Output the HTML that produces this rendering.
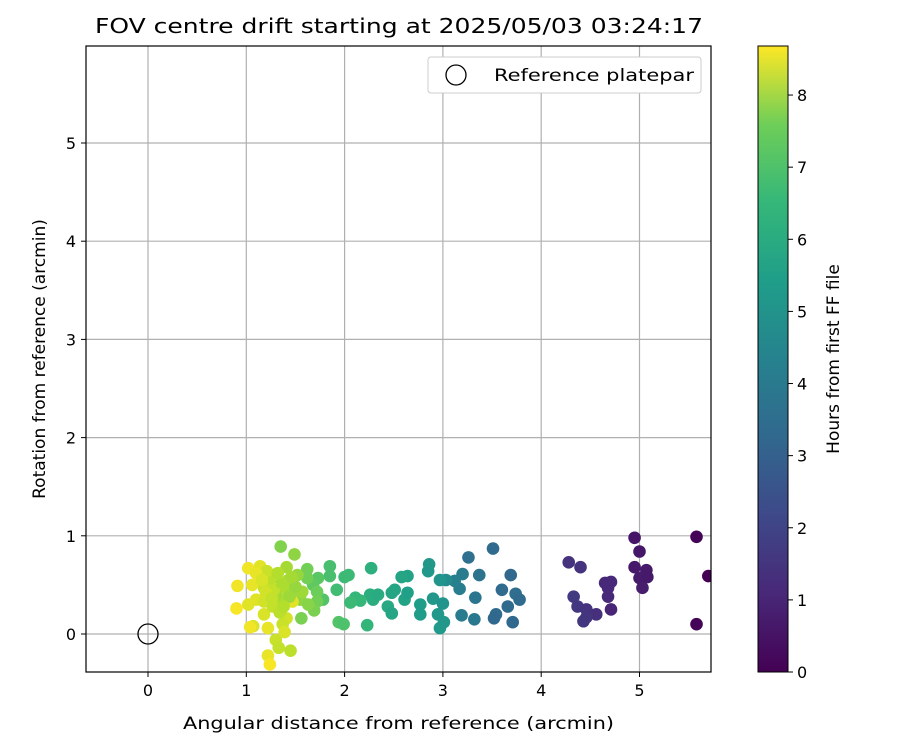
<!DOCTYPE html>
<html><head><meta charset="utf-8"><style>body{margin:0;background:#fff}svg{font-family:"DejaVu Sans","Liberation Sans",sans-serif}</style></head>
<body>
<svg id="c" width="900" height="750" xmlns="http://www.w3.org/2000/svg">
<defs><linearGradient id="vir" x1="0" y1="1" x2="0" y2="0">
<stop offset="0" stop-color="#440154"/><stop offset="0.125" stop-color="#482878"/><stop offset="0.25" stop-color="#3e4989"/><stop offset="0.375" stop-color="#31688e"/><stop offset="0.5" stop-color="#26828e"/><stop offset="0.625" stop-color="#1f9e89"/><stop offset="0.75" stop-color="#35b779"/><stop offset="0.875" stop-color="#6ece58"/><stop offset="1" stop-color="#fde725"/></linearGradient>
<clipPath id="pc"><rect x="86" y="46" width="625" height="626"/></clipPath></defs>
<text x="95" y="33" font-size="20" textLength="608" lengthAdjust="spacingAndGlyphs">FOV centre drift starting at 2025/05/03 03:24:17</text>
<g id="grid"></g><g id="pts" clip-path="url(#pc)"></g>
<rect x="86" y="46" width="625" height="626" fill="none" stroke="#000" stroke-width="1.2"/>
<g id="ticks"></g>
<text x="183" y="729" font-size="17" textLength="431" lengthAdjust="spacingAndGlyphs">Angular distance from reference (arcmin)</text>
<text transform="translate(45,359) rotate(-90)" font-size="17" text-anchor="middle">Rotation from reference (arcmin)</text>
<g>
<rect x="428" y="57" width="273" height="36" rx="3" fill="#fff" stroke="#ccc"/>
<circle cx="456" cy="75" r="10" fill="none" stroke="#000" stroke-width="1.3"/>
<text x="494" y="81" font-size="17" textLength="200" lengthAdjust="spacingAndGlyphs">Reference platepar</text></g>
<rect x="758" y="46" width="30" height="626" fill="url(#vir)" stroke="#000" stroke-width="1"/>
<g id="cb"></g>
<text transform="translate(839,359) rotate(-90)" font-size="17" text-anchor="middle">Hours from first FF file</text>
</svg>
<script>
const xTicks=[0,1,2,3,4,5];
const yTicks=[0,1,2,3,4,5];
const cbTicks=[0,1,2,3,4,5,6,7,8];
const xs=[5.58,5.58,5.70,4.95,5.0,4.95,5.07,5.0,5.08,5.03,4.28,4.40,4.71,4.68,4.65,4.68,4.71,4.33,4.37,4.46,4.56,4.43,4.46,3.51,3.26,3.37,3.69,3.60,3.74,3.78,3.66,3.54,3.71,3.52,3.33,3.2,3.17,3.32,3.19,3.12,3.03,2.85,2.86,2.64,2.58,2.97,2.90,3.0,2.95,2.97,3.01,2.77,2.77,2.48,2.61,2.64,2.44,2.48,2.26,2.29,2.27,2.23,2.34,2.51,1.85,1.85,2.0,2.04,1.92,2.11,2.16,2.06,1.94,1.99,1.78,1.73,1.68,1.35,1.49,1.62,1.62,1.72,1.72,1.69,1.56,1.55,1.41,1.43,1.47,1.37,1.24,1.14,1.21,1.18,1.06,1.10,1.18,1.07,1.04,1.22,1.02,0.91,0.90,1.02,1.1,1.18,1.47,1.41,1.37,1.30,1.33,1.45,1.22,1.24,1.39,1.3,1.40,1.52,1.27,1.34,1.57,1.63,1.28,1.36,1.44,1.50,1.20,1.32,1.16,1.38,1.26,1.46];
const ys=[0.99,0.10,0.59,0.98,0.84,0.68,0.65,0.57,0.58,0.47,0.73,0.68,0.53,0.47,0.52,0.38,0.25,0.38,0.28,0.25,0.20,0.13,0.17,0.87,0.78,0.60,0.60,0.45,0.41,0.35,0.28,0.20,0.12,0.16,0.37,0.61,0.46,0.15,0.19,0.54,0.55,0.64,0.71,0.59,0.58,0.55,0.36,0.31,0.20,0.06,0.12,0.30,0.20,0.42,0.35,0.42,0.28,0.21,0.40,0.35,0.67,0.09,0.40,0.45,0.59,0.69,0.58,0.60,0.45,0.37,0.34,0.32,0.12,0.10,0.35,0.57,0.50,0.89,0.81,0.66,0.57,0.43,0.33,0.24,0.16,0.35,0.68,0.55,0.42,0.35,0.55,0.69,0.64,0.47,0.50,0.35,0.20,0.08,0.07,0.06,0.30,0.49,0.26,0.67,0.62,0.33,0.33,0.16,0.10,-0.06,-0.14,-0.17,-0.22,-0.31,0.02,0.40,0.47,0.6,0.28,0.22,0.43,0.30,0.45,0.52,0.38,0.48,0.42,0.62,0.55,0.28,0.36,0.58];
const hours=[0.05,0.1,0.0,0.5,0.55,0.6,0.6,0.65,0.6,0.7,1.3,1.3,1.0,1.0,1.0,1.0,0.9,1.5,1.4,1.3,1.2,1.4,1.35,3.0,3.2,3.3,2.9,3.0,3.1,3.0,3.0,3.0,2.9,2.9,3.4,3.6,3.7,3.5,3.6,3.8,4.2,4.6,4.6,5.0,5.1,4.5,4.6,4.5,4.6,4.7,4.6,4.8,4.8,5.1,5.0,4.9,5.2,5.1,5.4,5.4,5.5,5.7,5.3,5.1,6.1,6.1,5.9,5.9,6.0,5.8,5.8,5.9,6.3,6.2,6.3,6.4,6.5,7.0,7.2,6.8,6.8,6.7,6.8,6.9,6.9,7.2,7.5,7.5,7.4,7.6,7.8,8.3,8.0,8.0,8.4,8.3,8.2,8.2,8.5,8.4,8.3,8.5,8.6,8.5,8.4,8.1,8.3,8.1,8.0,8.0,7.9,7.8,8.4,8.6,8.2,7.5,7.6,7.3,7.9,7.8,7.4,7.1,7.9,7.6,7.4,7.3,8.1,7.7,8.2,7.7,7.9,7.5];
const X=v=>148+v*98.3, Y=v=>634-v*98.2, HMAX=8.68;
const NS="http://www.w3.org/2000/svg";
function mk(t,a,p,txt){const e=document.createElementNS(NS,t);for(const k in a)e.setAttribute(k,a[k]);if(txt!==undefined)e.textContent=txt;p.appendChild(e);return e;}
const vir=[[68,1,84],[72,40,120],[62,73,137],[49,104,142],[38,130,142],[31,158,137],[53,183,121],[110,206,88],[181,222,43],[253,231,37]];
function col(h){let t=Math.max(0,Math.min(1,h/HMAX))*(vir.length-1);let i=Math.min(Math.floor(t),vir.length-2),f=t-i;const c=vir[i].map((v,k)=>Math.round(v+(vir[i+1][k]-v)*f));return `rgb(${c})`;}
const g=document.getElementById('grid'),tk=document.getElementById('ticks'),pts=document.getElementById('pts'),cb=document.getElementById('cb');
xTicks.forEach(v=>{const l=mk('line',{x1:X(v),x2:X(v),y1:46,y2:672,stroke:'#b0b0b0','stroke-width':1.2},g);
mk('line',{x1:X(v),x2:X(v),y1:672,y2:677,stroke:'#000'},tk);const t=mk('text',{x:X(v),y:696,'font-size':16,'text-anchor':'middle'},tk,String(v));});
yTicks.forEach(v=>{const l=mk('line',{x1:86,x2:711,y1:Y(v),y2:Y(v),stroke:'#b0b0b0','stroke-width':1.2},g);
mk('line',{x1:81,x2:86,y1:Y(v),y2:Y(v),stroke:'#000'},tk);const t=mk('text',{x:76,y:Y(v)+6,'font-size':16,'text-anchor':'end'},tk,String(v));});
xs.forEach((x,i)=>{const c=mk('circle',{cx:X(x),cy:Y(ys[i]),r:6.3,fill:col(hours[i])},pts);});
const ref=mk('circle',{cx:X(0),cy:Y(0),r:10,fill:'none',stroke:'#000','stroke-width':1.3},pts);


cbTicks.forEach(v=>{const y=672-v*(626/HMAX);mk('line',{x1:788,x2:793,y1:y,y2:y,stroke:'#000'},cb);const t=mk('text',{x:797,y:y+6,'font-size':16},cb,String(v));});
</script>
</body></html>
